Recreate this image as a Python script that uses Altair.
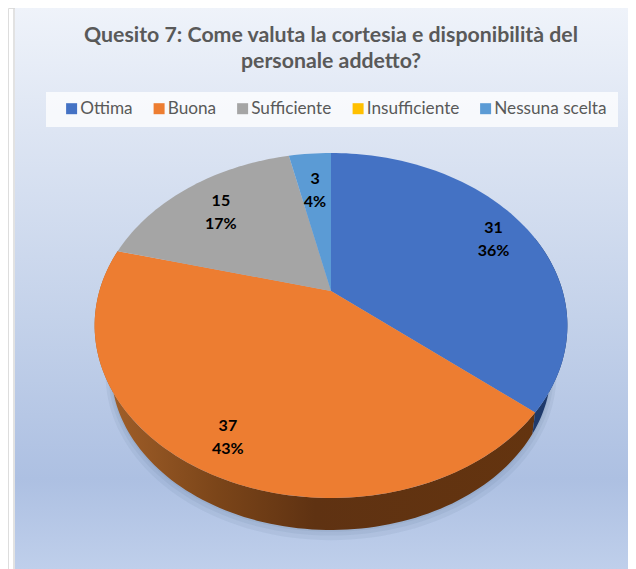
import math
import altair as alt
import pandas as pd

# ---- data ----
CATEGORIES = ["Ottima", "Buona", "Sufficiente", "Insufficiente", "Nessuna scelta"]
COUNTS = [31, 37, 15, 3]
COUNT_CATS = ["Ottima", "Buona", "Sufficiente", "Nessuna scelta"]
PERCENTS = ["36%", "43%", "17%", "4%"]
COLORS = ["#4472C4", "#ED7D31", "#A5A5A5", "#FFC000", "#5B9BD5"]
TITLE_LINES = ["Quesito 7: Come valuta la cortesia e disponibilità del", "personale addetto?"]

# ---- perspective geometry of the disc, in page pixels ----
CX, CY, K, A, C = 331.0, 291.0, 231.6, 165.6, 0.2      # top face
CY2, K2, A2 = 337.5, 215.4, 154.0                      # lower edge of the wall
WALL_SHIFT = 6.0
LABEL_R = [0.83, 0.83, 0.76, 0.72]
W, H = 620, 561


def project(theta, rho=1.0, cy=CY, k=K, a=A):
    t = math.radians(theta)
    d = 1 + C * rho * math.cos(t)
    return CX + k * rho * math.sin(t) / d, cy - a * rho * math.cos(t) / d


total = sum(COUNTS)
edges = [0.0]
for v in COUNTS:
    edges.append(edges[-1] + v / total * 360)

rows, labels = [], []
for i, cat in enumerate(COUNT_CATS):
    a0, a1 = edges[i], edges[i + 1]
    n = max(2, int((a1 - a0) / 1.5))
    pts = [(CX, CY)] + [project(a0 + (a1 - a0) * j / n) for j in range(n + 1)] + [(CX, CY)]
    for j, (x, y) in enumerate(pts):
        rows.append({"cat": cat, "i": j, "x": x, "y": y})
    lx, ly = project((a0 + a1) / 2, LABEL_R[i])
    labels.append({"x": lx, "y": ly, "t": f"{COUNTS[i]}\n{PERCENTS[i]}"})
top = pd.DataFrame(rows)
labels = pd.DataFrame(labels)


def wall(a0, a1, name):
    n = int((a1 - a0) / 1.5)
    out = []
    for j in range(n + 1):
        x, y = project(a0 + (a1 - a0) * j / n)
        out.append({"w": name, "i": j, "x": x, "y": y})
    for j in range(n + 1):
        x, y = project(a1 - WALL_SHIFT - (a1 - a0) * j / n, cy=CY2, k=K2, a=A2)
        out.append({"w": name, "i": n + 1 + j, "x": x, "y": y})
    return pd.DataFrame(out)


shadow_rows = []
for s, grow in enumerate([1.0, 3.0, 5.5]):
    for j in range(181):
        x, y = project(j * 2.0, cy=CY2 + grow * 0.6, k=K2 + grow, a=A2 + grow)
        shadow_rows.append({"s": s, "i": j, "x": x, "y": y})
shadow = pd.DataFrame(shadow_rows)

xs = alt.Scale(domain=[8, 628], nice=False, zero=False)
ys = alt.Scale(domain=[8, 569], reverse=True, nice=False, zero=False)
X = alt.X("x:Q", scale=xs, axis=None)
Y = alt.Y("y:Q", scale=ys, axis=None)

panel = alt.Chart(pd.DataFrame({"x": [15], "x2": [628], "y": [8], "y2": [569]})).mark_rect(
    fill=alt.LinearGradient(
        gradient="linear", x1=0, y1=0, x2=0, y2=1,
        stops=[
            alt.GradientStop(offset=0, color="#eff3fa"),
            alt.GradientStop(offset=0.22, color="#dde5f3"),
            alt.GradientStop(offset=0.55, color="#c4d2ea"),
            alt.GradientStop(offset=0.84, color="#adc0e2"),
            alt.GradientStop(offset=1, color="#bfcfeb"),
        ],
    )
).encode(x=X, x2="x2:Q", y=Y, y2="y2:Q")

edge = alt.Chart(pd.DataFrame({"x": [14], "y": [8], "y2": [569]})).mark_rule(
    color="#d9d9d9", strokeWidth=1.5
).encode(x=X, y=Y, y2="y2:Q")

legend_box = alt.Chart(pd.DataFrame({"x": [46], "x2": [618], "y": [92], "y2": [127]})).mark_rect(
    fill="#ffffff", opacity=0.75
).encode(x=X, x2="x2:Q", y=Y, y2="y2:Q")

shadow_layer = alt.Chart(shadow).mark_line(
    filled=True, fill="#3f4f6f", opacity=0.07, strokeWidth=0
).encode(x=X, y=Y, detail="s:N", order="i:Q")

wall_blue = alt.Chart(wall(70, edges[1], "blue")).mark_line(
    filled=True, fill="#1f3a6b", strokeWidth=0
).encode(x=X, y=Y, order="i:Q")

wall_orange = alt.Chart(wall(edges[1], 285, "orange")).mark_line(
    filled=True,
    strokeWidth=0,
    fill=alt.LinearGradient(
        gradient="linear", x1=0, y1=0, x2=1, y2=0,
        stops=[
            alt.GradientStop(offset=0, color="#a5622b"),
            alt.GradientStop(offset=0.28, color="#7b4519"),
            alt.GradientStop(offset=0.5, color="#5f3212"),
            alt.GradientStop(offset=1, color="#64340f"),
        ],
    ),
).encode(x=X, y=Y, order="i:Q")

faces = alt.Chart(top).mark_line(filled=True, strokeWidth=0).encode(
    x=X,
    y=Y,
    order="i:Q",
    color=alt.Color(
        "cat:N",
        scale=alt.Scale(domain=CATEGORIES, range=COLORS),
        legend=alt.Legend(
            title=None,
            orient="none",
            legendX=55,
            legendY=92,
            direction="horizontal",
            columns=5,
            columnPadding=17.5,
            symbolType="square",
            symbolSize=121,
            symbolStrokeWidth=0,
            labelFont="Lato",
            labelFontSize=17.2,
            labelColor="#595959",
            labelOffset=0,
            padding=0,
        ),
    ),
)

text = alt.Chart(labels).mark_text(
    font="Lato", fontSize=16, fontWeight="bold", color="#000000",
    lineBreak="\n", lineHeight=23, align="center", baseline="middle", dy=-8.5,
).encode(x=X, y=Y, text="t:N")

chart = alt.layer(panel, edge, legend_box, shadow_layer, wall_orange, wall_blue, faces, text).properties(
    width=W,
    height=H,
    padding=0,
    autosize=alt.AutoSizeParams(type="none"),
    title=alt.TitleParams(
        text=TITLE_LINES,
        font="Lato", fontSize=21.3, fontWeight="bold", color="#595959",
        anchor="middle", lineHeight=26, dx=13, dy=69.5,
    ),
).configure_view(stroke=None).configure(background="#ffffff")

chart.save("out.html", embed_options={"renderer": "svg", "actions": False})
